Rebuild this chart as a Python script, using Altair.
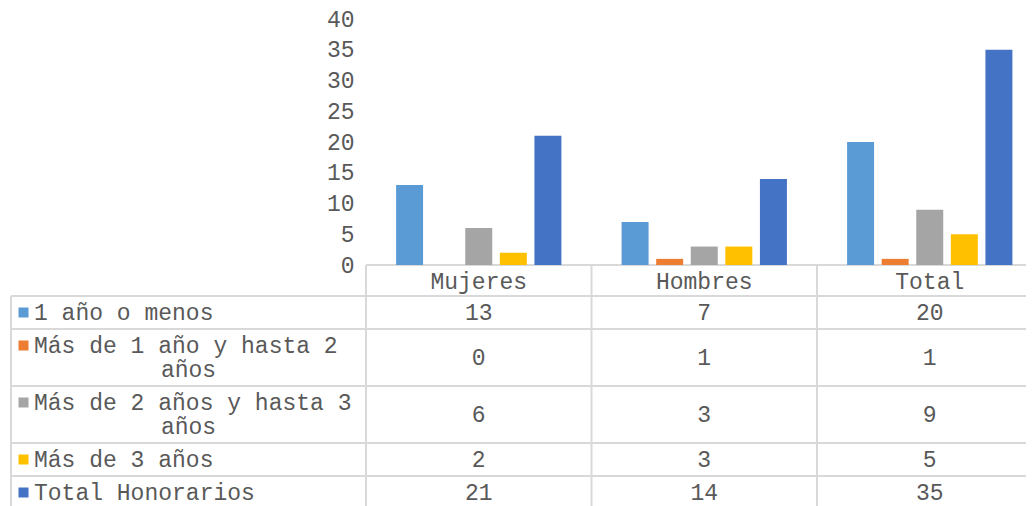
import altair as alt
import pandas as pd

# ---------------- data ----------------
groups = ["Mujeres", "Hombres", "Total"]
series = [
    "1 año o menos",
    "Más de 1 año y hasta 2 años",
    "Más de 2 años y hasta 3 años",
    "Más de 3 años",
    "Total Honorarios",
]
vals_1_ano = [13, 7, 20]
vals_1_2 = [0, 1, 1]
vals_2_3 = [6, 3, 9]
vals_3_mas = [2, 3, 5]
vals_total = [21, 14, 35]
label_line1 = ["1 año o menos", "Más de 1 año y hasta 2", "Más de 2 años y hasta 3",
               "Más de 3 años", "Total Honorarios"]
label_line2 = ["", "años", "años", "", ""]
colors = ["#5B9BD5", "#ED7D31", "#A5A5A5", "#FFC000", "#4472C4"]

all_vals = [vals_1_ano, vals_1_2, vals_2_3, vals_3_mas, vals_total]

# ---------------- layout (pixels inside plot area) ----------------
W, H = 1015, 487
FONT = "Liberation Mono"
TXT = "#595959"
FS = 23
GRID = "#D9D9D9"
col_x0, col_step = 355, 225.5
header_top = 246
row_tops = [277, 310, 367, 424, 457, 490]

bars_df = pd.DataFrame(
    [{"group": g, "series": s, "value": v[i]}
     for s, v in zip(series, all_vals) for i, g in enumerate(groups)]
)

xs_band = alt.Scale(domain=groups, range=[col_x0, col_x0 + 3 * col_step],
                    paddingInner=0, paddingOuter=0)
px_x = alt.Scale(domain=[0, W], range=[0, W], nice=False, zero=False)
px_y = alt.Scale(domain=[0, H], range=[0, H], nice=False, zero=False)
col_scale = alt.Scale(domain=series, range=colors)

bars = alt.Chart(bars_df).mark_bar().encode(
    x=alt.X("group:N", scale=xs_band, axis=None, sort=groups),
    xOffset=alt.XOffset("series:N", scale=alt.Scale(domain=series, paddingInner=0.22, paddingOuter=0.87), sort=series),
    y=alt.Y("value:Q", scale=alt.Scale(domain=[0, 40], range=[header_top, 0], nice=False),
            axis=alt.Axis(values=list(range(0, 41, 5)), domain=False, ticks=False, grid=False,
                          labelFont=FONT, labelFontSize=FS, labelColor=TXT,
                          labelPadding=12, offset=-col_x0, title=None)),
    color=alt.Color("series:N", scale=col_scale, legend=None),
)

# grid lines of the data table
lines = []
lines.append({"x": col_x0, "x2": W, "y": header_top, "y2": header_top})
for yt in row_tops[:-1]:
    lines.append({"x": 0, "x2": W, "y": yt, "y2": yt})
lines.append({"x": 0, "x2": 0, "y": row_tops[0], "y2": H})
for k in range(4):
    xv = col_x0 + k * col_step
    lines.append({"x": xv, "x2": xv, "y": header_top, "y2": H})
lines_df = pd.DataFrame(lines)

grid = alt.Chart(lines_df).mark_rule(color=GRID, strokeWidth=2).encode(
    x=alt.X("x:Q", scale=px_x, axis=None), x2="x2:Q",
    y=alt.Y("y:Q", scale=px_y, axis=None), y2="y2:Q",
)

# header row
hdr_df = pd.DataFrame({"group": groups, "y": [(header_top + row_tops[0]) / 2 + 1] * 3})
header = alt.Chart(hdr_df).mark_text(font=FONT, fontSize=FS, color=TXT, baseline="middle").encode(
    x=alt.X("group:N", scale=xs_band, axis=None, sort=groups),
    y=alt.Y("y:Q", scale=px_y, axis=None),
    text="group:N",
)

# values in the table
centers = [(row_tops[i] + row_tops[i + 1]) / 2 for i in range(5)]
cell_df = pd.DataFrame(
    [{"group": g, "series": s, "value": v[i], "y": centers[r]}
     for r, (s, v) in enumerate(zip(series, all_vals)) for i, g in enumerate(groups)]
)
cells = alt.Chart(cell_df).mark_text(font=FONT, fontSize=FS, color=TXT, baseline="middle").encode(
    x=alt.X("group:N", scale=xs_band, axis=None, sort=groups),
    y=alt.Y("y:Q", scale=px_y, axis=None),
    text="value:Q",
)

# row labels with legend keys
lab_rows = []
for r in range(5):
    two = label_line2[r] != ""
    y1 = centers[r] - 12 if two else centers[r]
    lab_rows.append({"series": series[r], "line1": label_line1[r], "line2": label_line2[r],
                     "y1": y1, "y2": centers[r] + 12, "xk": 12.5, "xt": 23, "xc": col_x0 / 2})
lab_df = pd.DataFrame(lab_rows)

keys = alt.Chart(lab_df).mark_square(size=100, opacity=1).encode(
    x=alt.X("xk:Q", scale=px_x, axis=None),
    y=alt.Y("y1:Q", scale=px_y, axis=None),
    color=alt.Color("series:N", scale=col_scale, legend=None),
)
lab1 = alt.Chart(lab_df).mark_text(font=FONT, fontSize=FS, color=TXT, align="left", baseline="middle").encode(
    x=alt.X("xt:Q", scale=px_x, axis=None),
    y=alt.Y("y1:Q", scale=px_y, axis=None),
    text="line1:N",
)
lab2 = alt.Chart(lab_df).mark_text(font=FONT, fontSize=FS, color=TXT, align="center", baseline="middle").encode(
    x=alt.X("xc:Q", scale=px_x, axis=None),
    y=alt.Y("y2:Q", scale=px_y, axis=None),
    text="line2:N",
)

chart = alt.layer(grid, bars, header, cells, keys, lab1, lab2).resolve_scale(
    x="independent", y="independent"
).properties(
    width=W, height=H, autosize="none", background="white",
    padding={"left": 3, "top": 11, "right": 0, "bottom": 0},
).configure_view(stroke=None)

chart.save("out.html", embed_options={"renderer": "svg", "actions": False})
